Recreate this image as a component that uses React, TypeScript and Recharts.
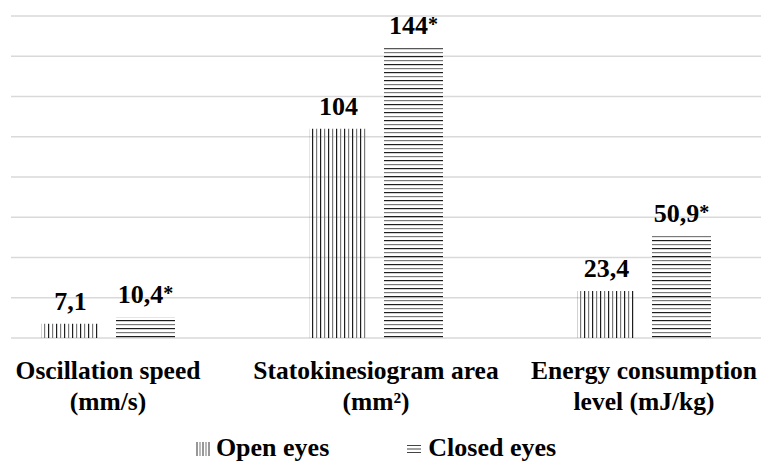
import React from "react";
import { BarChart, Bar, XAxis, YAxis, CartesianGrid, Legend, LabelList } from "recharts";

const categories = [
  ["Oscillation speed", "(mm/s)"],
  ["Statokinesiogram area", "(mm²)"],
  ["Energy consumption", "level (mJ/kg)"],
];
const openEyes = [7.1, 104, 23.4];
const closedEyes = [10.4, 144, 50.9];
const closedMarks = ["*", "*", "*"];
const yTicks = [0, 20, 40, 60, 80, 100, 120, 140, 160];
const seriesOrder = ["open", "closed"];

const data = categories.map((c, i) => ({
  name: c.join("\n"),
  open: openEyes[i],
  closed: closedEyes[i],
}));

const FONT = '"Liberation Serif", "Times New Roman", serif';

const fmt = (v: number) => String(v).replace(".", ",");

function CategoryTick({ x, y, payload }: any) {
  const lines = String(payload.value).split("\n");
  return (
    <text x={x} y={y} textAnchor="middle" fontFamily={FONT} fontWeight="bold" fontSize={25.5} fill="#000">
      {lines.map((l, i) => (
        <tspan key={i} x={x} dy={i === 0 ? 41 : 31}>
          {l}
        </tspan>
      ))}
    </text>
  );
}

const valueLabel = (marks?: string[]) => (p: any) => {
  const x = Number(p.x) + Number(p.width) / 2;
  const y = Number(p.y) - 14;
  const mark = marks ? marks[p.index] : "";
  return (
    <text x={x} y={y} textAnchor="middle" fontFamily={FONT} fontWeight="bold" fontSize={26} fill="#000">
      {fmt(p.value)}
      {mark && <tspan fontSize={20} dy={-3}>{mark}</tspan>}
    </text>
  );
};

function LegendIcon({ kind }: { kind: string }) {
  if (kind === "open") {
    return (
      <svg width={14} height={14} style={{ verticalAlign: "baseline", marginRight: 6 }}>
        {[1, 4, 7, 10, 13].map((x) => (
          <rect key={x} x={x - 0.5} y={0} width={1} height={14} fill={x % 2 ? "#333" : "#777"} />
        ))}
      </svg>
    );
  }
  return (
    <svg width={14} height={14} style={{ verticalAlign: "baseline", marginRight: 7 }}>
      {[3, 6.5, 10].map((y) => (
        <rect key={y} x={0} y={y} width={14} height={1} fill="#444" />
      ))}
    </svg>
  );
}

function PatternLegend({ payload }: any) {
  const items = [...(payload || [])].sort(
    (a: any, b: any) => seriesOrder.indexOf(a.dataKey) - seriesOrder.indexOf(b.dataKey)
  );
  return (
    <div
      style={{
        boxSizing: "border-box",
        height: 30,
        paddingTop: 4,
        lineHeight: "26px",
        display: "flex",
        justifyContent: "center",
        gap: 78,
        paddingRight: 9,
        fontFamily: FONT,
        fontWeight: "bold",
        fontSize: 26,
        color: "#000",
        whiteSpace: "nowrap",
      }}
    >
      {items.map((e: any) => (
        <span key={e.dataKey}>
          <LegendIcon kind={e.dataKey} />
          {e.value}
        </span>
      ))}
    </div>
  );
}

export default function App() {
  return (
    <div style={{ width: 761, height: 461, overflow: "hidden", background: "#fff" }}>
      <style>{"body{margin:0}"}</style>
      <BarChart
        width={761}
        height={461}
        data={data}
        margin={{ top: 16, right: 0, bottom: 0, left: 11 }}
        barSize={59}
        barGap={16}
      >
        <defs>
          <pattern id="vlines" patternUnits="userSpaceOnUse" width={8} height={8}>
            <rect x={0} y={0} width={1.2} height={8} fill="#1e1e1e" />
            <rect x={4} y={0} width={1.2} height={8} fill="#7a7a7a" />
          </pattern>
          <pattern id="hlines" patternUnits="userSpaceOnUse" width={8} height={8}>
            <rect x={0} y={0} width={8} height={1.2} fill="#1e1e1e" />
            <rect x={0} y={4} width={8} height={1.2} fill="#7a7a7a" />
          </pattern>
        </defs>
        <CartesianGrid vertical={false} stroke="#d9d9d9" strokeWidth={1.3} />
        <XAxis
          dataKey="name"
          axisLine={false}
          tickLine={false}
          tickSize={0}
          tickMargin={0}
          height={93}
          padding={{ left: -37, right: -17 }}
          interval={0}
          tick={<CategoryTick />}
        />
        <YAxis hide domain={[0, 160]} ticks={yTicks} />
        <Legend
          verticalAlign="bottom"
          content={<PatternLegend />}
          wrapperStyle={{ left: 0, width: 761, bottom: 0 }}
        />
        <Bar dataKey="open" name="Open eyes" fill="url(#vlines)" isAnimationActive={false}>
          <LabelList dataKey="open" content={valueLabel()} />
        </Bar>
        <Bar dataKey="closed" name="Closed eyes" fill="url(#hlines)" isAnimationActive={false}>
          <LabelList dataKey="closed" content={valueLabel(closedMarks)} />
        </Bar>
      </BarChart>
    </div>
  );
}
